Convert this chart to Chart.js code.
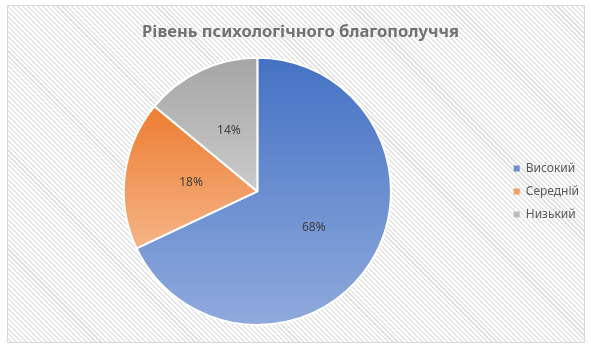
<!DOCTYPE html>
<html>
<head>
<meta charset="utf-8">
<script src="https://cdn.jsdelivr.net/npm/chart.js@4.4.1/dist/chart.umd.min.js"></script>
<style>
  html, body { margin: 0; padding: 0; background: #ffffff; }
  #wrap { position: relative; width: 591px; height: 351px; }
  #frame {
    position: absolute; left: 7px; top: 5px; width: 576px; height: 336px;
    border: 1px solid #d9d9d9;
    background: repeating-linear-gradient(45deg, #ffffff 0px, #ffffff 2px, #e4e4e4 2px, #e4e4e4 3.5px);
  }
  canvas { position: absolute; left: 0; top: 0; }
</style>
</head>
<body>
<div id="wrap">
  <div id="frame"></div>
  <canvas id="c" width="591" height="351"></canvas>
</div>
<script>
const titleText = 'Рівень психологічного благополуччя';
const categories = ['Високий', 'Середній', 'Низький'];
const values = [68, 18, 14];
const topColors = ['#4472C4', '#ED7D31', '#A5A5A5'];
const bottomColors = ['#8FAADC', '#F5B486', '#CBCBCB'];
const legendColors = ['#6A8FD2', '#F19C62', '#BBBBBB'];

function sliceGradient(ctx) {
  const chart = ctx.chart;
  const i = ctx.dataIndex;
  const area = chart.chartArea;
  const meta = chart.getDatasetMeta(0);
  const ctrl = meta && meta.controller;
  if (!area || !ctrl || !ctrl.outerRadius) return legendColors[i];
  const r = ctrl.outerRadius;
  const cy = (area.top + area.bottom) / 2 + (ctrl.offsetY || 0);
  const total = values.reduce((a, b) => a + b, 0);
  let before = 0;
  for (let k = 0; k < i; k++) before += values[k];
  const a0 = -Math.PI / 2 + (before / total) * 2 * Math.PI;
  const a1 = a0 + (values[i] / total) * 2 * Math.PI;
  const ys = [cy, cy + r * Math.sin(a0), cy + r * Math.sin(a1)];
  for (const ext of [-Math.PI / 2, Math.PI / 2, 3 * Math.PI / 2]) {
    if (ext >= a0 && ext <= a1) ys.push(cy + r * Math.sin(ext));
  }
  const y0 = Math.min(...ys), y1 = Math.max(...ys);
  const g = chart.ctx.createLinearGradient(0, y0, 0, y1);
  g.addColorStop(0, topColors[i]);
  g.addColorStop(1, bottomColors[i]);
  return g;
}

const labelPlugin = {
  id: 'sliceLabels',
  afterDatasetsDraw(chart) {
    const meta = chart.getDatasetMeta(0);
    const c = chart.ctx;
    c.save();
    c.font = '12px "Noto Sans"';
    c.fillStyle = '#404040';
    c.textAlign = 'center';
    c.textBaseline = 'middle';
    meta.data.forEach((arc, i) => {
      const p = arc.tooltipPosition();
      c.fillText(values[i] + '%', p.x, p.y);
    });
    c.restore();
  }
};

new Chart(document.getElementById('c'), {
  type: 'pie',
  data: {
    labels: categories,
    datasets: [{
      data: values,
      backgroundColor: sliceGradient,
      borderColor: '#ffffff',
      borderWidth: 2
    }]
  },
  options: {
    responsive: false,
    animation: false,
    layout: { padding: { left: 12, right: 2, top: 10, bottom: 25 } },
    plugins: {
      title: {
        display: true,
        text: titleText,
        color: '#727272',
        font: { family: '"Noto Sans"', size: 16.5, weight: 'bold', lineHeight: 1.2 },
        padding: { top: 12, bottom: 15 }
      },
      legend: {
        position: 'right',
        fullSize: false,
        labels: {
          boxWidth: 6,
          boxHeight: 6,
          padding: 11,
          color: '#595959',
          font: { family: '"Noto Sans"', size: 12 },
          generateLabels: (chart) => categories.map((name, i) => ({
            text: name,
            fillStyle: legendColors[i],
            strokeStyle: legendColors[i],
            lineWidth: 0,
            fontColor: '#595959',
            hidden: false,
            index: i
          }))
        }
      },
      tooltip: { enabled: false }
    }
  },
  plugins: [labelPlugin]
});
</script>
</body>
</html>
